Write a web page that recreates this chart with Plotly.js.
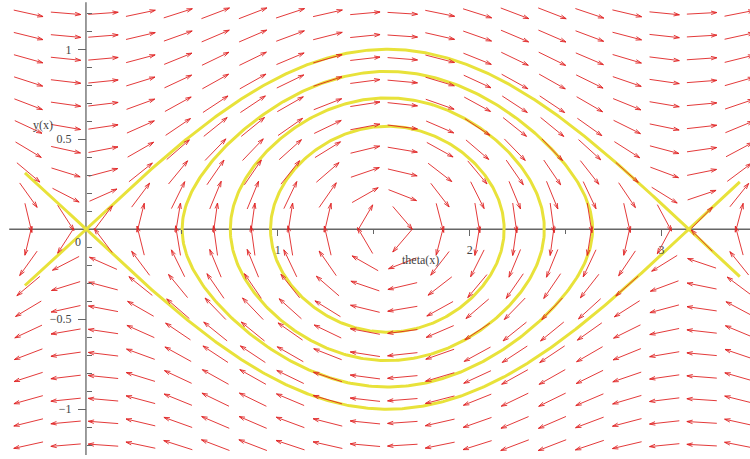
<!DOCTYPE html>
<html>
<head>
<meta charset="utf-8">
<script src="https://cdn.plot.ly/plotly-3.0.1.min.js"></script>
<style>html,body{margin:0;padding:0;background:#fff;}#chart{width:750px;height:459px;}</style>
</head>
<body>
<div id="chart"></div>
<script>
// ---- data ----
// system: theta' = y, y' = sin(theta)cos(theta)
var thetaGrid = [-0.3, -0.105, 0.09, 0.285, 0.48, 0.675, 0.87, 1.065, 1.26, 1.455,
                 1.65, 1.845, 2.04, 2.235, 2.43, 2.625, 2.82, 3.015, 3.21, 3.405];
var yGrid = [-1.2, -1.0737, -0.9474, -0.8211, -0.6947, -0.5684, -0.4421, -0.3158, -0.1895, -0.0632,
             0.0632, 0.1895, 0.3158, 0.4421, 0.5684, 0.6947, 0.8211, 0.9474, 1.0737, 1.2];
var orbitPeaks = [0.877, 0.73, 0.572];        // y at theta = pi/2 of closed orbits
var separatrixRange = [-0.318, 3.408];        // theta span of separatrix curves
var xTickVals = [1, 2, 3];
var xTickText = ['1', '2', '3'];
var xMinorVals = [0.5, 1.5, 2.5];
var yTickVals = [-1, -0.5, 0.5, 1];
var yTickText = ['\u22121', '\u22120.5', '0.5', '1'];
var yMinorVals = [-1.2, -1.1, -0.9, -0.8, -0.7, -0.6, -0.4, -0.3, -0.2, -0.1,
                  0.1, 0.2, 0.3, 0.4, 0.6, 0.7, 0.8, 0.9, 1.1, 1.2];

var xRange = [-0.448, 3.461];
var yRange = [-1.277, 1.274];
var W = 750, H = 459;
var sx = W / (xRange[1] - xRange[0]);
var sy = H / (yRange[1] - yRange[0]);

function field(th, y) { return [y, Math.sin(th) * Math.cos(th)]; }

// direction field arrows
var ax = [], ay = [];
var half = 15, barb = 6, ang = 17 * Math.PI / 180;
thetaGrid.forEach(function (th) {
  yGrid.forEach(function (y) {
    var f = field(th, y);
    var u = f[0] * sx, v = f[1] * sy;
    var n = Math.hypot(u, v) || 1;
    u /= n; v /= n;
    var tx = th - half * u / sx, ty = y - half * v / sy;
    var hx = th + half * u / sx, hy = y + half * v / sy;
    ax.push(tx, hx, null); ay.push(ty, hy, null);
    [ang, -ang].forEach(function (a) {
      var bx = -u * Math.cos(a) + v * Math.sin(a);
      var by = -u * Math.sin(a) - v * Math.cos(a);
      ax.push(hx, hx + barb * bx / sx, null);
      ay.push(hy, hy + barb * by / sy, null);
    });
  });
});

var traces = [];
var yellow = 'rgb(232,226,58)';

// separatrix curves y = +/- sin(theta)
[1, -1].forEach(function (s) {
  var xs = [], ys = [];
  var N = 400;
  for (var i = 0; i <= N; i++) {
    var th = separatrixRange[0] + (separatrixRange[1] - separatrixRange[0]) * i / N;
    xs.push(th); ys.push(s * Math.sin(th));
  }
  traces.push({x: xs, y: ys, mode: 'lines', line: {color: yellow, width: 3}, hoverinfo: 'skip', showlegend: false});
});

// closed orbits: y^2 = y0^2 - cos^2(theta)
orbitPeaks.forEach(function (y0) {
  var xs = [], ys = [];
  var N = 400;
  for (var i = 0; i <= N; i++) {
    var p = 2 * Math.PI * i / N;
    xs.push(Math.acos(y0 * Math.cos(p)));
    ys.push(y0 * Math.sin(p));
  }
  traces.push({x: xs, y: ys, mode: 'lines', line: {color: yellow, width: 3}, hoverinfo: 'skip', showlegend: false});
});

traces.push({x: ax, y: ay, mode: 'lines', line: {color: 'rgb(224,36,36)', width: 0.9}, hoverinfo: 'skip', showlegend: false});

var axisCol = '#666';
var txtFont = {family: 'Liberation Serif, Times New Roman, serif', size: 12, color: '#444'};

var layout = {
  width: W, height: H,
  margin: {l: 0, r: 0, t: 0, b: 0, pad: 0},
  paper_bgcolor: '#fff', plot_bgcolor: '#fff',
  showlegend: false,
  font: txtFont,
  xaxis: {
    range: xRange, showgrid: false, zeroline: false, showline: false,
    anchor: 'free', position: (0 - yRange[0]) / (yRange[1] - yRange[0]),
    tickmode: 'array', tickvals: xTickVals, ticktext: xTickText,
    ticks: 'outside', ticklen: 6, tickwidth: 1, tickcolor: axisCol,
    ticklabelstandoff: 3, tickfont: txtFont,
    minor: {tickmode: 'array', tickvals: xMinorVals, ticks: 'outside', ticklen: 4, tickwidth: 1, tickcolor: axisCol, showgrid: false}
  },
  yaxis: {
    range: yRange, showgrid: false, zeroline: false, showline: false,
    anchor: 'free', position: (0 - xRange[0]) / (xRange[1] - xRange[0]),
    tickmode: 'array', tickvals: yTickVals, ticktext: yTickText,
    ticks: 'outside', ticklen: 8, tickwidth: 1, tickcolor: axisCol,
    ticklabelstandoff: 4, tickfont: txtFont,
    minor: {tickmode: 'array', tickvals: yMinorVals, ticks: 'inside', ticklen: 5, tickwidth: 1, tickcolor: axisCol, showgrid: false}
  },
  shapes: [
    {type: 'line', xref: 'x', yref: 'y', x0: -0.4, x1: 3.5, y0: 0, y1: 0, line: {color: axisCol, width: 1.3}, layer: 'below'},
    {type: 'line', xref: 'x', yref: 'y', x0: 0, x1: 0, y0: -1.255, y1: 1.262, line: {color: axisCol, width: 1.3}, layer: 'below'}
  ],
  annotations: [
    {x: 0, y: 0, xref: 'x', yref: 'y', text: '0', showarrow: false, xshift: -8, yshift: -13, font: txtFont},
    {x: 31 / W, y: 1 - 116 / H, xref: 'paper', yref: 'paper', text: 'y(x)', showarrow: false, font: txtFont},
    {x: 420 / W, y: 1 - 260 / H, xref: 'paper', yref: 'paper', text: 'theta(x)', showarrow: false, font: txtFont}
  ]
};

Plotly.newPlot('chart', traces, layout, {displayModeBar: false, staticPlot: true});
</script>
</body>
</html>
